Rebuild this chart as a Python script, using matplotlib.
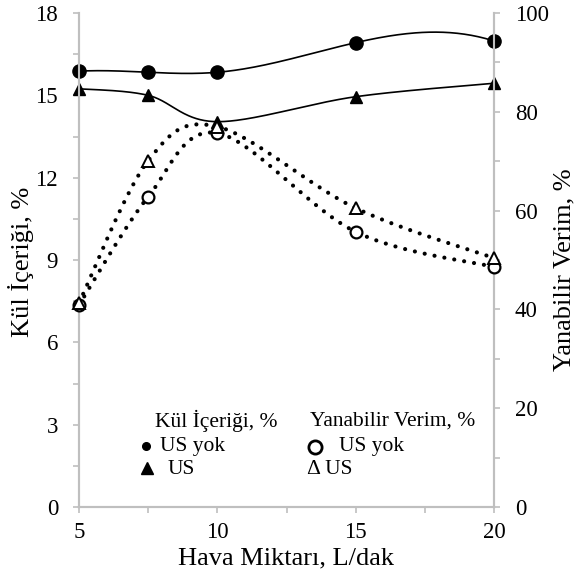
import numpy as np
import matplotlib
matplotlib.use("Agg")
import matplotlib.pyplot as plt
from matplotlib.ticker import MultipleLocator

# ---- data ----
hava = [5, 7.5, 10, 15, 20]
kul_us_yok = [15.88, 15.84, 15.84, 16.92, 16.98]
kul_us = [15.24, 15.0, 14.04, 14.95, 15.44]
verim_us_yok = [40.9, 62.8, 75.7, 55.7, 48.6]
verim_us = [41.3, 70.1, 77.0, 60.5, 50.4]

x_ticks = [5, 10, 15, 20]
left_ticks = [0, 3, 6, 9, 12, 15, 18]
right_ticks = [0, 20, 40, 60, 80, 100]

FONT = "Liberation Serif"
plt.rcParams['font.family'] = [FONT, 'DejaVu Serif']
GRAY = "#BFBFBF"


def spline_curve(xs, ys, n=80):
    """Cubic spline (not-a-knot) through the data points."""
    x = np.asarray(xs, float)
    y = np.asarray(ys, float)
    m = len(x)
    h = np.diff(x)
    s = np.diff(y) / h
    A = np.zeros((m, m))
    b = np.zeros(m)
    for i in range(1, m - 1):
        A[i, i - 1] = h[i - 1]
        A[i, i] = 2 * (h[i - 1] + h[i])
        A[i, i + 1] = h[i]
        b[i] = 6 * (s[i] - s[i - 1])
    A[0, 0] = -1 / h[0]
    A[0, 1] = 1 / h[0] + 1 / h[1]
    A[0, 2] = -1 / h[1]
    A[-1, -3] = -1 / h[-2]
    A[-1, -2] = 1 / h[-2] + 1 / h[-1]
    A[-1, -1] = -1 / h[-1]
    M = np.linalg.solve(A, b)
    xx, yy = [], []
    for i in range(m - 1):
        t = np.linspace(x[i], x[i + 1], n)
        hi = h[i]
        v = (M[i] * (x[i + 1] - t) ** 3 / (6 * hi) + M[i + 1] * (t - x[i]) ** 3 / (6 * hi)
             + (y[i] / hi - M[i] * hi / 6) * (x[i + 1] - t)
             + (y[i + 1] / hi - M[i + 1] * hi / 6) * (t - x[i]))
        if i > 0:
            t, v = t[1:], v[1:]
        xx.append(t)
        yy.append(v)
    return np.concatenate(xx), np.concatenate(yy)


def bezier_curve(xs, ys, n=60):
    """Smoothed line (Bezier with Catmull-Rom control points)."""
    P = np.column_stack([np.asarray(xs, float), np.asarray(ys, float)])
    out = []
    m = len(P)
    t = np.linspace(0, 1, n)[:, None]
    for i in range(m - 1):
        p0 = P[i - 1] if i > 0 else P[i]
        p1 = P[i]
        p2 = P[i + 1]
        p3 = P[i + 2] if i + 2 < m else P[i + 1]
        c1 = p1 + (p2 - p0) / 6.0
        c2 = p2 - (p3 - p1) / 6.0
        seg = ((1 - t) ** 3) * p1 + 3 * ((1 - t) ** 2) * t * c1 + 3 * (1 - t) * t ** 2 * c2 + t ** 3 * p2
        out.append(seg if i == 0 else seg[1:])
    out = np.vstack(out)
    return out[:, 0], out[:, 1]


W, H = 578, 581
fig = plt.figure(figsize=(W / 100, H / 100), dpi=100)
L, R, T, B = 79, 494, 13, 507
ax = fig.add_axes([L / W, 1 - B / H, (R - L) / W, (B - T) / H])
ax2 = ax.twinx()

# Kül içeriği (left axis)
sx, sy = spline_curve(hava, kul_us_yok)
ax.plot(sx, sy, color="black", lw=1.2, zorder=3)
ax.plot(hava, kul_us_yok, 'o', color="black", ms=9.5, zorder=4, clip_on=False)
sx, sy = bezier_curve(hava, kul_us)
ax.plot(sx, sy, color="black", lw=1.2, zorder=3)
ax.plot(hava, kul_us, '^', color="black", ms=9, zorder=4, clip_on=False)

# Yanabilir verim (right axis)
dot = (0, (0.01, 2.4))
sx, sy = bezier_curve(hava, verim_us_yok)
ax2.plot(sx, sy, color="black", lw=3.0, ls=dot, dash_capstyle='round', zorder=3)
ax2.plot(hava, verim_us_yok, 'o', mfc="white", mec="black", mew=1.6, ms=8.5, zorder=4, clip_on=False)
sx, sy = bezier_curve(hava, verim_us)
ax2.plot(sx, sy, color="black", lw=3.0, ls=dot, dash_capstyle='round', zorder=3)
ax2.plot(hava, verim_us, '^', mfc="white", mec="black", mew=1.4, ms=8.5, zorder=4, clip_on=False)

ax.set_xlim(5, 20)
ax.set_ylim(0, 18)
ax2.set_ylim(0, 100)
ax.set_xticks(x_ticks)
ax.set_yticks(left_ticks)
ax2.set_yticks(right_ticks)
ax.xaxis.set_minor_locator(MultipleLocator(2.5))
ax.yaxis.set_minor_locator(MultipleLocator(1.5))
ax2.yaxis.set_minor_locator(MultipleLocator(10))

for a in (ax, ax2):
    for s in a.spines.values():
        s.set_color(GRAY)
        s.set_linewidth(1.5)
    a.spines['top'].set_visible(False)
    a.tick_params(which='both', direction='out', color=GRAY, width=1.2, labelsize=16.5)
    a.tick_params(which='both', length=4.5)
    a.tick_params(which='major', pad=10.5)
ax.tick_params(axis='x', pad=6)


def fxy(px, py):
    return px / W, 1 - py / H


fig.text(*fxy(286.5, 558), "Hava Miktarı, L/dak", fontsize=19, ha='center', va='center')
fig.text(*fxy(21, 262), "Kül İçeriği, %", rotation=90, fontsize=19,
         ha='center', va='center')
fig.text(*fxy(564, 270), "Yanabilir Verim, %", rotation=90, fontsize=19,
         ha='center', va='center')

# custom legend
lfs = 15.5
fig.text(*fxy(155, 421), "Kül İçeriği, %", fontsize=lfs, ha='left', va='center')
fig.text(*fxy(160, 446), "US yok", fontsize=lfs, ha='left', va='center')
fig.text(*fxy(168, 469), "US", fontsize=lfs, ha='left', va='center')
fig.text(*fxy(310, 421), "Yanabilir Verim, %", fontsize=lfs, ha='left', va='center')
fig.text(*fxy(339, 446), "US yok", fontsize=lfs, ha='left', va='center')
fig.text(*fxy(307, 469), "Δ US", fontsize=lfs, ha='left', va='center')
fig.lines.append(plt.Line2D([146 / W], [1 - 446 / H], marker='o', color='black', ms=5.5,
                            transform=fig.transFigure, figure=fig))
fig.lines.append(plt.Line2D([147 / W], [1 - 468 / H], marker='^', color='black', ms=8.5,
                            transform=fig.transFigure, figure=fig))
fig.lines.append(plt.Line2D([315 / W], [1 - 447 / H], marker='o', mfc='white', mec='black',
                            mew=2.0, ms=9.5, transform=fig.transFigure, figure=fig))

fig.savefig("out.png", dpi=100)
